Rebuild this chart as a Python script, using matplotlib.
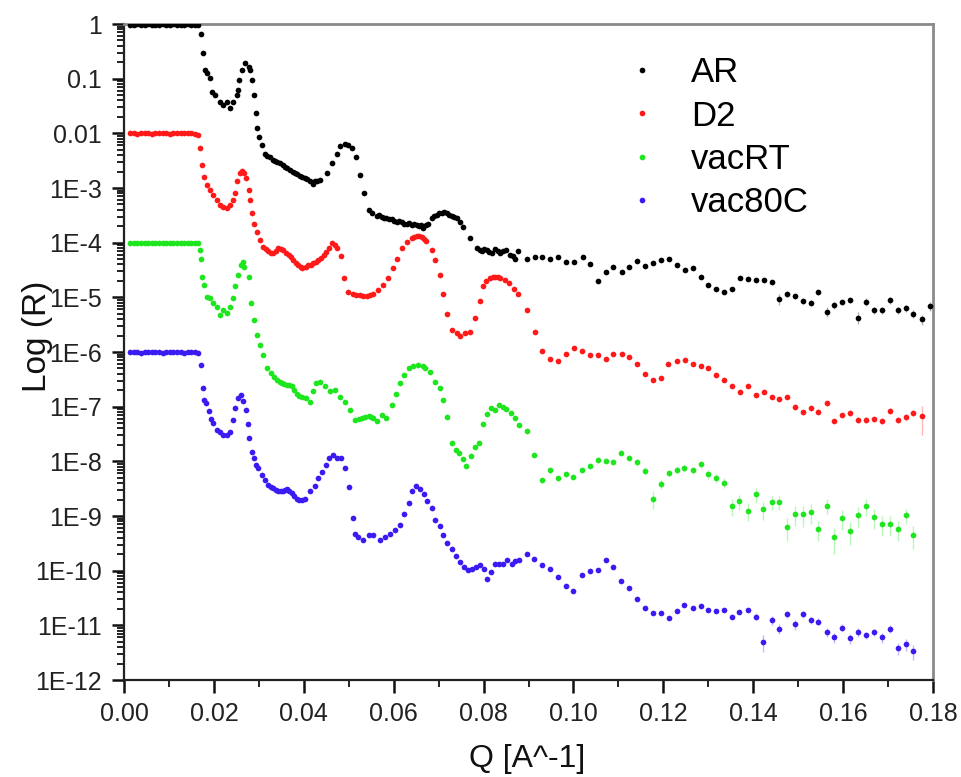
import numpy as np
import matplotlib
matplotlib.use("Agg")
import matplotlib.pyplot as plt
from matplotlib.ticker import FixedLocator, MultipleLocator, LogLocator, NullFormatter

plt.rcParams['font.family'] = ['Liberation Sans', 'DejaVu Sans']

# ---------------- data ----------------
series_names = ["AR", "D2", "vacRT", "vac80C"]
series_colors = ["#000000", "#ff1a1a", "#1ee61e", "#3a1cf2"]

# plateau (total reflection) region, shared Q grid
q_plateau = [0.0014, 0.0022, 0.0030, 0.0038, 0.0046, 0.0054, 0.0062, 0.0070, 0.0078, 0.0086,
             0.0094, 0.0102, 0.0110, 0.0118, 0.0126, 0.0134, 0.0142, 0.0150, 0.0158, 0.0165]
ar_plateau_log = [-0.01, -0.01, 0.0, -0.01, -0.01, 0.0, -0.01, -0.01, -0.01, 0.0,
                  -0.01, -0.01, 0.0, -0.01, -0.01, -0.01, 0.0, -0.01, -0.01, -0.02]
d2_plateau_log = [-2.0, -2.0, -2.01, -2.0, -2.0, -2.0, -2.01, -2.0, -2.0, -2.0,
                  -2.0, -2.01, -2.0, -2.0, -2.0, -2.0, -2.0, -2.0, -2.01, -2.03]
vacrt_plateau_log = [-4.0, -4.01, -4.0, -4.0, -4.0, -4.0, -4.0, -4.01, -4.0, -4.0,
                     -4.0, -4.0, -4.0, -4.0, -4.01, -4.0, -4.0, -4.0, -4.0, -4.0]
vac80c_plateau_log = [-6.0, -6.0, -6.0, -6.01, -6.0, -6.0, -6.0, -6.0, -6.0, -6.01,
                      -6.0, -6.0, -6.0, -6.0, -6.0, -6.01, -6.0, -6.0, -6.0, -6.01]

ar_q = [0.01706, 0.0175, 0.0180, 0.0184, 0.0191, 0.0195, 0.0202, 0.0214, 0.0221, 0.0229,
        0.0236, 0.0243, 0.0251, 0.0254, 0.0256, 0.0262, 0.0269, 0.0277, 0.0280, 0.0284,
        0.0289, 0.0294, 0.0297, 0.0301, 0.0306, 0.0314, 0.0319, 0.0325, 0.0331, 0.0336,
        0.0341, 0.0347, 0.0353, 0.0358, 0.0363, 0.0369, 0.0375, 0.0380, 0.0385, 0.0391,
        0.0397, 0.0403, 0.0408, 0.0414, 0.0420, 0.0425, 0.0430, 0.0436, 0.0451, 0.0462,
        0.0473, 0.0481, 0.0492, 0.0499, 0.0507, 0.0516, 0.0525, 0.0535, 0.0544, 0.0551,
        0.0562, 0.0568, 0.0573, 0.0578, 0.0584, 0.0590, 0.0596, 0.0601, 0.0607, 0.0612,
        0.0618, 0.0623, 0.0629, 0.0634, 0.0640, 0.0645, 0.0651, 0.0656, 0.0661, 0.0666,
        0.0673, 0.0677, 0.0685, 0.0690, 0.0696, 0.0701, 0.0707, 0.0712, 0.0718, 0.0723,
        0.0729, 0.0734, 0.0740, 0.0748, 0.0755, 0.0770, 0.0785, 0.0791, 0.0796, 0.0801,
        0.0807, 0.0812, 0.0818, 0.0825, 0.0831, 0.0837, 0.0844, 0.0851, 0.0859, 0.0865,
        0.0870, 0.0877, 0.0896, 0.0914, 0.0931, 0.0948, 0.0966, 0.0983, 0.1001, 0.1021,
        0.1037, 0.1054, 0.1072, 0.1089, 0.1107, 0.1124, 0.1142, 0.1159, 0.1178, 0.1194,
        0.1213, 0.1230, 0.1248, 0.1265, 0.1283, 0.1300, 0.1317, 0.1335, 0.1352, 0.1371,
        0.1388, 0.1405, 0.1424, 0.1441, 0.1457, 0.1476, 0.1493, 0.1510, 0.1528, 0.1545,
        0.1563, 0.1580, 0.1598, 0.1616, 0.1634, 0.1651, 0.1669, 0.1687, 0.1704, 0.1721,
        0.1739, 0.1756, 0.1775, 0.1793]
ar_log = [-0.18, -0.53, -0.84, -0.90, -0.99, -1.24, -1.30, -1.42, -1.48, -1.42,
          -1.54, -1.42, -1.30, -1.21, -1.02, -0.84, -0.72, -0.78, -0.84, -1.02,
          -1.30, -1.62, -1.91, -2.06, -2.21, -2.37, -2.41, -2.44, -2.48, -2.50,
          -2.52, -2.55, -2.58, -2.61, -2.64, -2.67, -2.70, -2.73, -2.74, -2.78,
          -2.80, -2.82, -2.84, -2.87, -2.92, -2.88, -2.87, -2.85, -2.73, -2.55,
          -2.37, -2.24, -2.19, -2.21, -2.27, -2.43, -2.76, -3.10, -3.40, -3.46,
          -3.52, -3.50, -3.53, -3.55, -3.55, -3.57, -3.56, -3.60, -3.62, -3.60,
          -3.63, -3.65, -3.65, -3.64, -3.67, -3.66, -3.68, -3.70, -3.68, -3.74,
          -3.68, -3.65, -3.55, -3.51, -3.49, -3.46, -3.45, -3.44, -3.46, -3.49,
          -3.52, -3.53, -3.55, -3.62, -3.71, -3.92, -4.10, -4.14, -4.16, -4.12,
          -4.13, -4.17, -4.19, -4.12, -4.16, -4.19, -4.15, -4.13, -4.23, -4.25,
          -4.29, -4.16, -4.30, -4.26, -4.27, -4.29, -4.26, -4.35, -4.35, -4.26,
          -4.39, -4.71, -4.53, -4.45, -4.53, -4.45, -4.34, -4.42, -4.38, -4.32,
          -4.29, -4.41, -4.50, -4.47, -4.62, -4.77, -4.85, -4.91, -4.84, -4.65,
          -4.67, -4.68, -4.68, -4.72, -5.03, -4.94, -4.98, -5.06, -5.10, -4.91,
          -5.26, -5.14, -5.09, -5.05, -5.37, -5.08, -5.23, -5.23, -5.05, -5.23,
          -5.20, -5.30, -5.40, -5.16]
ar_relerr_tail = [0.10, 0.22, 0.12, 0.12, 0.12, 0.12, 0.12, 0.22, 0.15, 0.12, 0.12,
                  0.25, 0.15, 0.15, 0.15, 0.15, 0.15, 0.15, 0.15, 0.20, 0.20]

d2_q = [0.0169, 0.0173, 0.0178, 0.0184, 0.0191, 0.0199, 0.0206, 0.0214, 0.0221, 0.0229,
        0.0236, 0.0243, 0.0247, 0.0252, 0.0258, 0.0263, 0.0268, 0.0271, 0.0277, 0.0280,
        0.0284, 0.0289, 0.0295, 0.0303, 0.0310, 0.0316, 0.0321, 0.0327, 0.0332, 0.0338,
        0.0343, 0.0349, 0.0354, 0.0360, 0.0366, 0.0371, 0.0377, 0.0383, 0.0388, 0.0393,
        0.0397, 0.0404, 0.0410, 0.0416, 0.0421, 0.0427, 0.0432, 0.0438, 0.0444, 0.0450,
        0.0455, 0.0462, 0.0469, 0.0473, 0.0482, 0.0490, 0.0499, 0.0510, 0.0517, 0.0525,
        0.0532, 0.0540, 0.0548, 0.0555, 0.0566, 0.0577, 0.0588, 0.0598, 0.0607, 0.0618,
        0.0629, 0.0640, 0.0646, 0.0651, 0.0657, 0.0662, 0.0667, 0.0673, 0.0685, 0.0692,
        0.0703, 0.0710, 0.0719, 0.0729, 0.0740, 0.0748, 0.0759, 0.0770, 0.0781, 0.0791,
        0.0798, 0.0805, 0.0814, 0.0820, 0.0825, 0.0831, 0.0837, 0.0848, 0.0857, 0.0868,
        0.0877, 0.0896, 0.0914, 0.0931, 0.0948, 0.0965, 0.0983, 0.1001, 0.1019, 0.1037,
        0.1054, 0.1072, 0.1089, 0.1107, 0.1124, 0.1142, 0.1159, 0.1176, 0.1194, 0.1211,
        0.1230, 0.1248, 0.1265, 0.1283, 0.1300, 0.1317, 0.1335, 0.1352, 0.1371, 0.1388,
        0.1405, 0.1424, 0.1441, 0.1457, 0.1476, 0.1493, 0.1510, 0.1528, 0.1545, 0.1563,
        0.1580, 0.1598, 0.1616, 0.1634, 0.1651, 0.1669, 0.1687, 0.1704, 0.1721, 0.1739,
        0.1756, 0.1775]
d2_log = [-2.27, -2.58, -2.79, -2.94, -3.04, -3.13, -3.22, -3.31, -3.34, -3.37,
          -3.31, -3.22, -3.10, -2.88, -2.73, -2.68, -2.73, -2.82, -3.04, -3.22,
          -3.46, -3.65, -3.80, -3.95, -4.07, -4.12, -4.16, -4.18, -4.19, -4.15,
          -4.10, -4.11, -4.13, -4.18, -4.23, -4.27, -4.32, -4.37, -4.41, -4.45,
          -4.47, -4.44, -4.41, -4.40, -4.38, -4.35, -4.32, -4.28, -4.23, -4.17,
          -4.10, -4.00, -4.04, -4.10, -4.25, -4.65, -4.90, -4.93, -4.95, -4.96,
          -4.97, -4.98, -4.96, -4.94, -4.87, -4.77, -4.65, -4.47, -4.29, -4.10,
          -3.98, -3.92, -3.90, -3.88, -3.88, -3.90, -3.93, -3.97, -4.13, -4.32,
          -4.59, -4.93, -5.30, -5.60, -5.66, -5.71, -5.65, -5.63, -5.38, -5.06,
          -4.80, -4.71, -4.65, -4.63, -4.62, -4.63, -4.65, -4.69, -4.74, -4.84,
          -4.94, -5.24, -5.63, -5.98, -6.12, -6.16, -6.04, -5.93, -5.98, -6.05,
          -6.05, -6.13, -6.04, -6.04, -6.09, -6.21, -6.40, -6.51, -6.48, -6.22,
          -6.16, -6.15, -6.22, -6.26, -6.30, -6.42, -6.51, -6.62, -6.74, -6.62,
          -6.79, -6.74, -6.82, -6.86, -6.82, -7.00, -7.10, -7.03, -7.09, -6.94,
          -7.26, -7.15, -7.11, -7.24, -7.24, -7.23, -7.26, -7.08, -7.24, -7.19,
          -7.11, -7.17]
d2_relerr_tail = [0.08, 0.08, 0.08, 0.10, 0.10, 0.10, 0.10, 0.10, 0.10, 0.10,
                  0.12, 0.12, 0.12, 0.12, 0.12, 0.12, 0.12, 0.15, 0.12, 0.55]

vacrt_q = [0.0169, 0.0171, 0.0174, 0.0178, 0.0184, 0.0191, 0.0199, 0.0206, 0.0214, 0.0221,
           0.0229, 0.0236, 0.0243, 0.0247, 0.0254, 0.0260, 0.0264, 0.0268, 0.0277, 0.0283,
           0.0289, 0.0295, 0.0303, 0.0310, 0.0319, 0.0328, 0.0334, 0.0340, 0.0346, 0.0351,
           0.0357, 0.0362, 0.0368, 0.0373, 0.0379, 0.0384, 0.0390, 0.0395, 0.0405, 0.0414,
           0.0421, 0.0428, 0.0436, 0.0447, 0.0458, 0.0469, 0.0481, 0.0492, 0.0503, 0.0514,
           0.0522, 0.0529, 0.0537, 0.0544, 0.0550, 0.0555, 0.0562, 0.0573, 0.0584, 0.0596,
           0.0605, 0.0613, 0.0622, 0.0633, 0.0644, 0.0655, 0.0666, 0.0670, 0.0681, 0.0692,
           0.0702, 0.0710, 0.0719, 0.0729, 0.0739, 0.0746, 0.0754, 0.0762, 0.0772, 0.0781,
           0.0790, 0.0798, 0.0807, 0.0816, 0.0825, 0.0834, 0.0844, 0.0851, 0.0860, 0.0870,
           0.0879, 0.0896, 0.0913, 0.0930, 0.0948, 0.0965, 0.0983, 0.1000, 0.1018, 0.1037,
           0.1054, 0.1072, 0.1089, 0.1106, 0.1124, 0.1142, 0.1160, 0.1177, 0.1194, 0.1212,
           0.1230, 0.1247, 0.1265, 0.1283, 0.1300, 0.1317, 0.1335, 0.1352, 0.1369, 0.1388,
           0.1405, 0.1422, 0.1441, 0.1458, 0.1474, 0.1493, 0.1510, 0.1528, 0.1545, 0.1563,
           0.1580, 0.1598, 0.1616, 0.1634, 0.1651, 0.1669, 0.1687, 0.1704, 0.1721, 0.1739,
           0.1756]
vacrt_log = [-4.13, -4.30, -4.62, -4.77, -4.99, -5.02, -5.11, -5.18, -5.32, -5.23,
             -5.29, -5.17, -5.02, -4.80, -4.59, -4.41, -4.35, -4.44, -4.62, -5.11,
             -5.41, -5.69, -5.87, -6.05, -6.30, -6.39, -6.45, -6.51, -6.55, -6.57,
             -6.58, -6.60, -6.61, -6.63, -6.70, -6.76, -6.80, -6.82, -6.85, -6.91,
             -6.72, -6.57, -6.54, -6.63, -6.72, -6.69, -6.82, -6.91, -7.06, -7.24,
             -7.22, -7.21, -7.19, -7.17, -7.19, -7.21, -7.27, -7.15, -7.21, -6.97,
             -6.76, -6.57, -6.42, -6.30, -6.26, -6.24, -6.26, -6.30, -6.36, -6.54,
             -6.66, -6.88, -7.18, -7.66, -7.79, -7.84, -7.96, -8.08, -7.90, -7.73,
             -7.67, -7.32, -7.14, -7.03, -7.06, -6.97, -7.01, -7.05, -7.12, -7.21,
             -7.33, -7.44, -7.88, -8.35, -8.16, -8.31, -8.23, -8.28, -8.16, -8.08,
             -7.97, -7.99, -8.01, -7.85, -7.94, -8.02, -8.17, -8.68, -8.41, -8.22,
             -8.15, -8.12, -8.16, -8.05, -8.23, -8.31, -8.39, -8.82, -8.73, -8.90,
             -8.60, -8.88, -8.74, -8.74, -9.20, -8.96, -8.97, -8.93, -9.24, -8.81,
             -9.39, -9.03, -9.27, -8.98, -8.82, -9.01, -9.15, -9.15, -9.24, -8.99,
             -9.35]
vacrt_relerr_tail = [0.08, 0.08, 0.10, 0.10, 0.10, 0.10, 0.10, 0.10, 0.10, 0.12,
                     0.12, 0.12, 0.12, 0.12, 0.14, 0.15, 0.35, 0.20, 0.15, 0.15,
                     0.15, 0.15, 0.15, 0.18, 0.18, 0.20, 0.35, 0.30, 0.35, 0.30,
                     0.35, 0.30, 0.30, 0.45, 0.40, 0.40, 0.40, 0.40, 0.30, 0.50,
                     0.40, 0.45, 0.40, 0.35, 0.40, 0.40, 0.40, 0.40, 0.30, 0.45]

vac80c_q = [0.0171, 0.0175, 0.0178, 0.0182, 0.0188, 0.0193, 0.0199, 0.0206, 0.0214, 0.0221,
            0.0229, 0.0236, 0.0243, 0.0248, 0.0254, 0.0260, 0.0265, 0.0271, 0.0275, 0.0279,
            0.0284, 0.0289, 0.0294, 0.0299, 0.0306, 0.0314, 0.0321, 0.0327, 0.0332, 0.0338,
            0.0343, 0.0349, 0.0354, 0.0358, 0.0363, 0.0368, 0.0373, 0.0379, 0.0384, 0.0390,
            0.0395, 0.0403, 0.0414, 0.0425, 0.0432, 0.0440, 0.0449, 0.0457, 0.0466, 0.0475,
            0.0483, 0.0492, 0.0501, 0.0509, 0.0514, 0.0521, 0.0532, 0.0544, 0.0555, 0.0570,
            0.0581, 0.0592, 0.0603, 0.0614, 0.0623, 0.0633, 0.0640, 0.0650, 0.0659, 0.0667,
            0.0675, 0.0685, 0.0693, 0.0702, 0.0710, 0.0719, 0.0729, 0.0738, 0.0748, 0.0757,
            0.0766, 0.0775, 0.0783, 0.0792, 0.0800, 0.0807, 0.0816, 0.0825, 0.0835, 0.0844,
            0.0853, 0.0863, 0.0870, 0.0879, 0.0896, 0.0913, 0.0930, 0.0948, 0.0965, 0.0983,
            0.1000, 0.1018, 0.1037, 0.1054, 0.1072, 0.1089, 0.1106, 0.1124, 0.1142, 0.1160,
            0.1177, 0.1194, 0.1212, 0.1230, 0.1247, 0.1265, 0.1283, 0.1300, 0.1317, 0.1335,
            0.1352, 0.1369, 0.1388, 0.1405, 0.1422, 0.1441, 0.1458, 0.1474, 0.1493, 0.1510,
            0.1528, 0.1545, 0.1563, 0.1580, 0.1598, 0.1616, 0.1634, 0.1651, 0.1669, 0.1687,
            0.1704, 0.1721, 0.1739, 0.1756]
vac80c_log = [-6.24, -6.66, -6.88, -6.94, -7.07, -7.23, -7.29, -7.43, -7.46, -7.52,
              -7.52, -7.46, -7.24, -7.03, -6.85, -6.79, -6.89, -7.06, -7.32, -7.58,
              -7.82, -7.93, -8.07, -8.13, -8.25, -8.34, -8.43, -8.46, -8.49, -8.52,
              -8.54, -8.55, -8.55, -8.53, -8.51, -8.55, -8.58, -8.63, -8.69, -8.70,
              -8.71, -8.68, -8.55, -8.45, -8.31, -8.19, -8.07, -7.94, -7.88, -7.93,
              -7.94, -8.12, -8.46, -9.04, -9.32, -9.38, -9.44, -9.35, -9.35, -9.44,
              -9.38, -9.32, -9.26, -9.16, -8.96, -8.76, -8.55, -8.45, -8.51, -8.60,
              -8.72, -8.86, -9.07, -9.18, -9.35, -9.49, -9.61, -9.74, -9.85, -9.93,
              -9.99, -9.96, -9.93, -9.90, -9.96, -10.15, -10.02, -9.88, -9.87, -9.87,
              -9.80, -9.87, -9.83, -9.80, -9.69, -9.79, -9.90, -9.97, -10.12, -10.28,
              -10.37, -10.08, -10.00, -9.99, -9.80, -9.94, -10.18, -10.32, -10.51, -10.69,
              -10.78, -10.77, -10.87, -10.73, -10.63, -10.69, -10.65, -10.72, -10.73, -10.71,
              -10.85, -10.75, -10.71, -10.84, -11.30, -10.90, -11.06, -10.79, -10.98, -10.79,
              -10.90, -10.93, -11.12, -11.22, -11.04, -11.24, -11.12, -11.18, -11.12, -11.22,
              -11.06, -11.42, -11.34, -11.47]
vac80c_relerr_tail = [0.15, 0.35, 0.20, 0.20, 0.15, 0.20, 0.15, 0.15, 0.15, 0.20, 0.20,
                      0.15, 0.20, 0.20, 0.15, 0.15, 0.20, 0.15, 0.25, 0.25, 0.30]

x_ticks = [0.00, 0.02, 0.04, 0.06, 0.08, 0.10, 0.12, 0.14, 0.16, 0.18]
x_tick_labels = ["0.00", "0.02", "0.04", "0.06", "0.08", "0.10", "0.12", "0.14", "0.16", "0.18"]
y_tick_exponents = [-12, -11, -10, -9, -8, -7, -6, -5, -4, -3, -2, -1, 0]
y_tick_labels = ["1E-12", "1E-11", "1E-10", "1E-9", "1E-8", "1E-7", "1E-6", "1E-5",
                 "1E-4", "1E-3", "0.01", "0.1", "1"]

all_q = [ar_q, d2_q, vacrt_q, vac80c_q]
all_log = [ar_log, d2_log, vacrt_log, vac80c_log]
all_plateau = [ar_plateau_log, d2_plateau_log, vacrt_plateau_log, vac80c_plateau_log]
all_err = [ar_relerr_tail, d2_relerr_tail, vacrt_relerr_tail, vac80c_relerr_tail]

# ---------------- figure ----------------
fig = plt.figure(figsize=(9.62, 7.77), dpi=100)
ax = fig.add_axes([0.1289, 0.1248, 0.8410, 0.8443])

for name, col, qv, lv, pl, er in zip(series_names, series_colors, all_q, all_log, all_plateau, all_err):
    q = np.array(q_plateau + qv)
    R = 10.0 ** np.array(pl + lv)
    n = len(er)
    ax.errorbar(q[-n:], R[-n:], yerr=np.array(er) * R[-n:], fmt='none',
                ecolor=col, alpha=0.3, elinewidth=1.0, capsize=0, zorder=2)
    ax.plot(q, R, ls='none', marker='o', ms=4.1, mec='none', color=col,
            label=name, zorder=3)

ax.set_yscale('log')
ax.set_xlim(0.0, 0.18)
ax.set_ylim(1e-12, 1.0)

ax.yaxis.set_major_locator(FixedLocator([10.0 ** e for e in y_tick_exponents]))
ax.set_yticklabels(y_tick_labels)
ax.yaxis.set_minor_locator(LogLocator(base=10, subs=np.arange(2, 10), numticks=40))
ax.yaxis.set_minor_formatter(NullFormatter())

ax.set_xticks(x_ticks)
ax.set_xticklabels(x_tick_labels)
ax.xaxis.set_minor_locator(MultipleLocator(0.01))

ax.tick_params(which='major', direction='out', length=9, width=1.8, labelsize=18,
               pad=7, colors='#111111', labelcolor='#222222', top=False, right=False)
ax.tick_params(which='minor', direction='out', length=5, width=1.3,
               colors='#111111', top=False, right=False)

for s in ['left', 'bottom']:
    ax.spines[s].set_color('#222222')
    ax.spines[s].set_linewidth(1.6)
for s in ['top', 'right']:
    ax.spines[s].set_color('#8a8a8a')
    ax.spines[s].set_linewidth(2.0)

ax.set_xlabel("Q [A^-1]", fontsize=23, color='#111111')
ax.set_ylabel("Log (R)", fontsize=24, color='#111111')
ax.xaxis.set_label_coords(0.498, -0.097)
ax.yaxis.set_label_coords(-0.088, 0.524)

leg = ax.legend(loc='upper left', bbox_to_anchor=(0.619, 0.951), frameon=False,
                fontsize=25, handlelength=1.0, handletextpad=0.9, labelspacing=0.3,
                borderpad=0.0, borderaxespad=0.0, markerscale=1.0)

fig.savefig("out.png", dpi=100)
